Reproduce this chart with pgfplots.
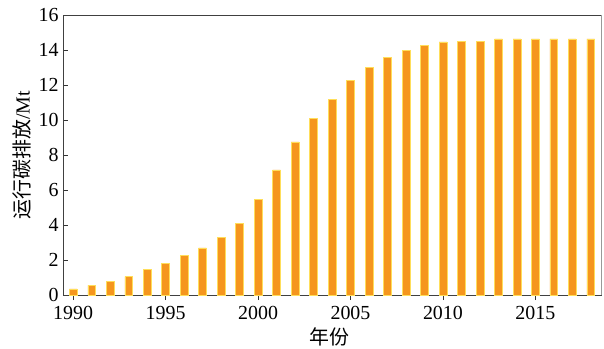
\documentclass[border=0pt]{standalone}
\usepackage{fontspec}
\setmainfont{Liberation Serif}
\newfontfamily\cjk{Noto Sans CJK SC}
\usepackage{pgfplots}
\pgfplotsset{compat=1.18}
\definecolor{barfill}{RGB}{245,150,30}
\definecolor{baredge}{RGB}{255,222,90}
\begin{document}
\begin{tikzpicture}
\begin{axis}[
  name=ax,
  scale only axis,
  width=538bp, height=280bp,
  xmin=1989.45, xmax=2018.55,
  ymin=0, ymax=16,
  xtick={1990,1995,2000,2005,2010,2015},
  ytick={0,2,...,16},
  /pgf/number format/1000 sep={},
  /pgf/number format/assume math mode=true,
  tick pos=left,
  tick align=inside,
  major tick length=5bp,
  tick style={black!80, line width=0.6pt},
  axis line style={black!75, line width=0.8pt},
  ticklabel style={font=\fontsize{20}{22}\selectfont},
  xlabel={\cjk 年份},
  ylabel={{\cjk 运行碳排放}/Mt},
  every axis x label/.style={at={(axis description cs:0.495,-0.15)}, anchor=center, font=\fontsize{20}{22}\selectfont},
  every axis y label/.style={at={(axis description cs:-0.0762,0.5)}, rotate=90, anchor=center, font=\fontsize{20}{22}\selectfont},
  xticklabel style={yshift=-3bp},
  yticklabel style={xshift=-1bp},
  ybar, bar width=0.42,
]
\addplot[fill=barfill, draw=baredge, line width=0.5pt] coordinates {
(1990,0.35) (1991,0.55) (1992,0.80) (1993,1.05) (1994,1.45)
(1995,1.80) (1996,2.25) (1997,2.70) (1998,3.30) (1999,4.10)
(2000,5.45) (2001,7.15) (2002,8.75) (2003,10.1) (2004,11.18)
(2005,12.25) (2006,13.0) (2007,13.58) (2008,13.96) (2009,14.25)
(2010,14.46) (2011,14.51) (2012,14.51) (2013,14.63) (2014,14.63)
(2015,14.63) (2016,14.63) (2017,14.63) (2018,14.63)
};
\end{axis}
\draw[white, line width=1pt] (ax.south east) -- (ax.north east);
\draw[black!40, line width=0.8pt] (ax.south east) -- (ax.north east);
\pgfresetboundingbox
\path ([shift={(-63bp,-54bp)}]ax.south west) rectangle ([shift={(3bp,15bp)}]ax.north east);
\end{tikzpicture}
\end{document}
